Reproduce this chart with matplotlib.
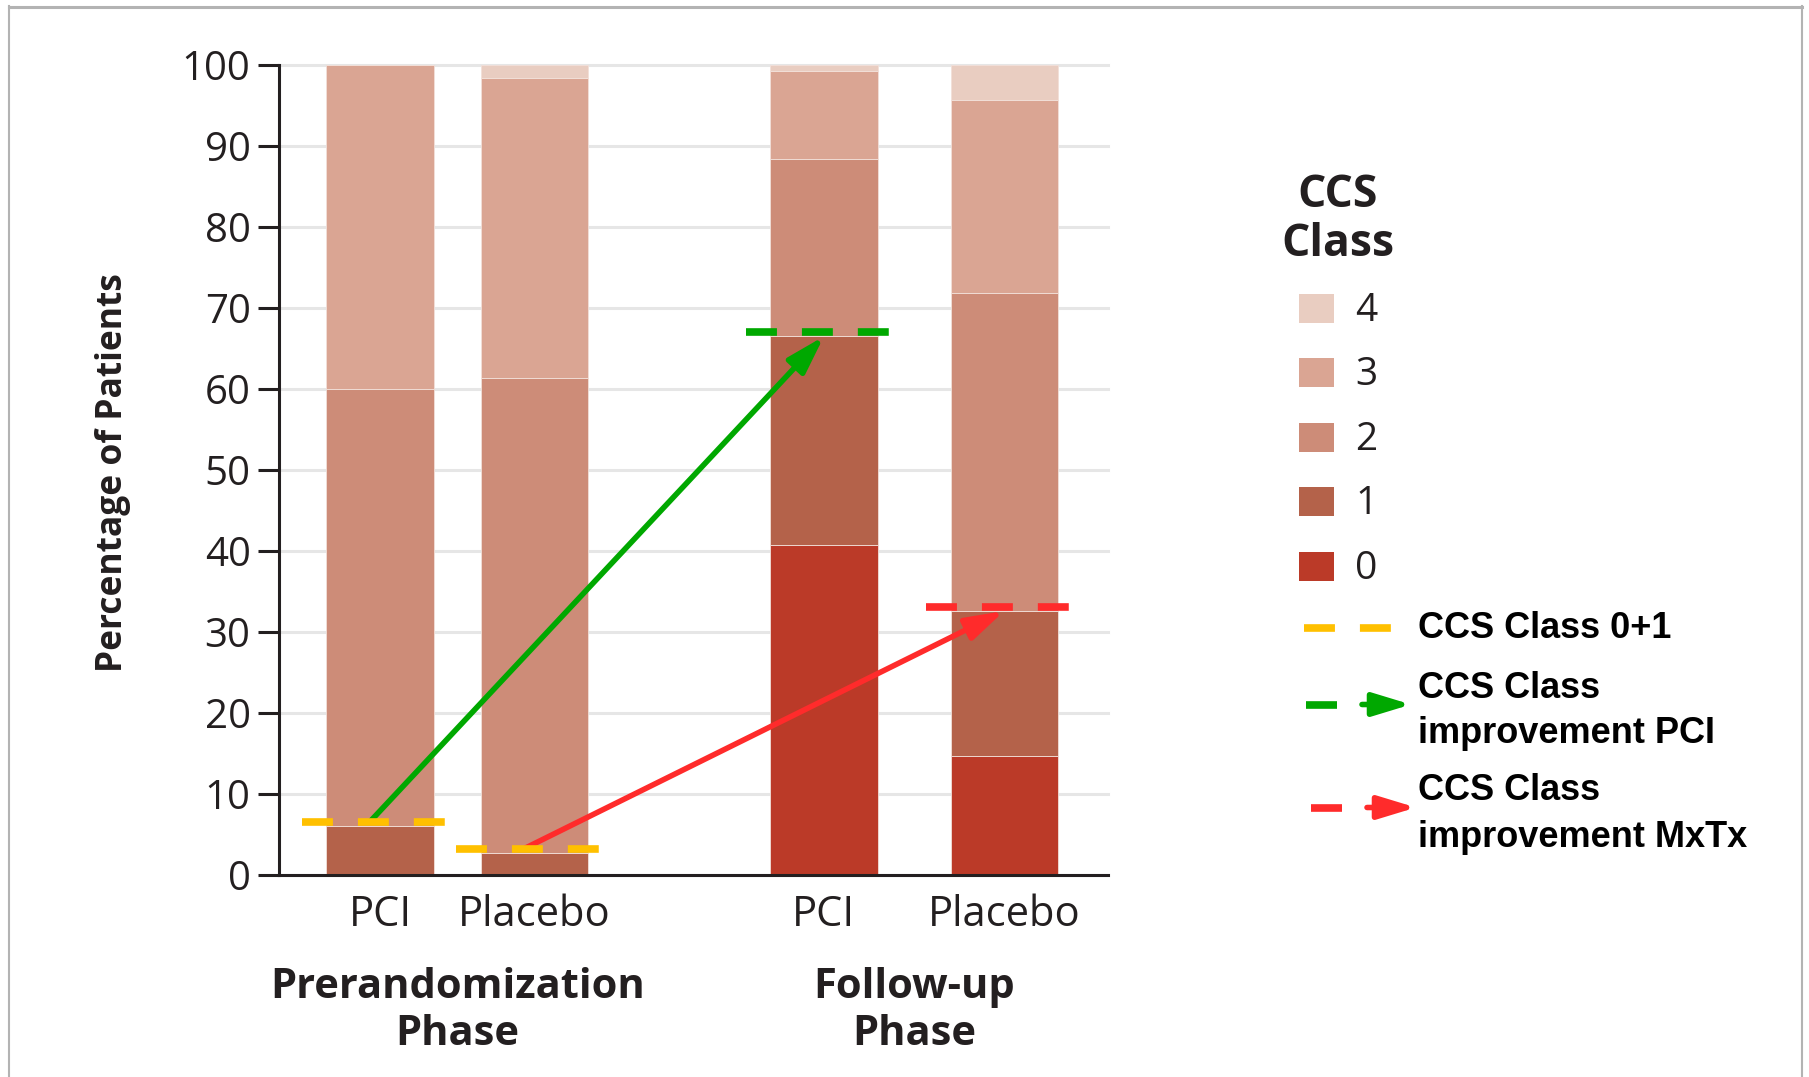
import matplotlib.pyplot as plt
from matplotlib.lines import Line2D
from matplotlib.patches import Rectangle, FancyArrowPatch
from matplotlib.transforms import blended_transform_factory

# Share of patients (%) per CCS angina class, one value per bar
bar_labels = ["PCI", "Placebo", "PCI", "Placebo"]
class_0 = [0.0, 0.0, 40.7, 14.7]
class_1 = [6.1, 2.7, 25.8, 17.9]
class_2 = [53.9, 58.7, 21.9, 39.3]
class_3 = [40.0, 37.0, 10.9, 23.8]
class_4 = [0.0, 1.6, 0.7, 4.3]
class_names = ["0", "1", "2", "3", "4"]
phase_labels = [["Prerandomization", "Phase"], ["Follow-up", "Phase"]]
line_legend = [
    ["CCS Class 0+1"],
    ["CCS Class", "improvement PCI"],
    ["CCS Class", "improvement MxTx"],
]

CLASS_COLORS = ["#bb3a28", "#b4624a", "#cd8c78", "#daa593", "#e9cdc1"]
YELLOW = "#ffc000"
GREEN = "#00a800"
RED = "#ff2b2b"
TEXT = "#231f20"

W, H = 1809, 1077
positions = [0.0, 1.0, 2.88, 4.05]
BAR_WIDTH = 0.696


def fx(x):
    return x / W


def fy(y):
    return 1 - y / H


fig = plt.figure(figsize=(W / 100, H / 100), dpi=100)
ax = fig.add_axes([fx(279), fy(875), (1108 - 279) / W, (875 - 65) / H])

# Stacked bars
stack = [class_0, class_1, class_2, class_3, class_4]
bottom = [0.0] * len(positions)
for vals, color in zip(stack, CLASS_COLORS):
    ax.bar(positions, vals, width=BAR_WIDTH, bottom=bottom, color=color,
           edgecolor="#f2e0d9", linewidth=0.6, zorder=2)
    bottom = [b + v for b, v in zip(bottom, vals)]

# Class 0+1 levels, dashed markers and arrows
class_01 = [a + b for a, b in zip(class_0, class_1)]
dash_colors = [YELLOW, YELLOW, GREEN, RED]
for pos, level, color in zip(positions, class_01, dash_colors):
    ax.plot([pos - 0.505, pos + 0.425], [level + 0.5] * 2, color=color,
            lw=5.5, dashes=(4.05, 3.27), solid_capstyle="butt", zorder=4)

arrow_style = "-|>,head_length=23,head_width=7"
for start, end, color in [(0, 2, GREEN), (1, 3, RED)]:
    ax.annotate("", xy=(positions[end], class_01[end]),
                xytext=(positions[start] - 0.06, class_01[start] + 0.6),
                arrowprops=dict(arrowstyle=arrow_style, mutation_scale=1,
                                lw=4, color=color, shrinkA=0, shrinkB=0),
                zorder=3)

# Axes styling
ax.set_xlim(-0.656, 4.7235)
ax.set_ylim(0, 100)
ax.set_yticks(range(0, 101, 10))
ax.set_xticks(positions, bar_labels)
ax.yaxis.grid(True, color="#e6e6e6", lw=2.2)
for gl in ax.get_ygridlines():
    gl.set_clip_on(False)
ax.set_axisbelow(True)
for side in ["top", "right"]:
    ax.spines[side].set_visible(False)
for side in ["left", "bottom"]:
    ax.spines[side].set_linewidth(2.2)
    ax.spines[side].set_color(TEXT)
ax.tick_params(axis="y", length=15, width=2.2, pad=5.5, labelsize=29,
               color=TEXT, labelcolor=TEXT, labelfontfamily="Open Sans")
ax.tick_params(axis="x", length=0, pad=14, labelsize=30,
               labelcolor=TEXT, labelfontfamily="Open Sans")

# Phase labels below the bar pairs
trans = blended_transform_factory(ax.transData, fig.transFigure)
for i, lines in enumerate(phase_labels):
    center = (positions[2 * i] + positions[2 * i + 1]) / 2
    for line, base in zip(lines, [998, 1045]):
        ax.text(center, fy(base), line, transform=trans, ha="center",
                va="baseline", fontsize=30, fontweight="bold", color=TEXT,
                family="Open Sans")

fig.text(fx(113), fy(473), "Percentage of Patients", rotation=90,
         ha="center", va="center", fontsize=25.5, fontweight="bold", color=TEXT,
         family="Open Sans")

# Class legend
fig.text(fx(1338), fy(207), "CCS", ha="center", va="baseline", fontsize=32,
         fontweight="bold", color=TEXT, family="Open Sans")
fig.text(fx(1338), fy(256), "Class", ha="center", va="baseline", fontsize=32,
         fontweight="bold", color=TEXT, family="Open Sans")
for i, k in enumerate(range(len(class_names) - 1, -1, -1)):
    yc = 308.5 + i * 64.4
    fig.add_artist(Rectangle((fx(1299), fy(yc + 14.5)), 35 / W, 29 / H,
                             transform=fig.transFigure,
                             facecolor=CLASS_COLORS[k], edgecolor="none"))
    fig.text(fx(1355), fy(yc + 12.5), class_names[k], va="baseline",
             fontsize=28, color=TEXT, family="Open Sans")

# Line / arrow legend
legend_rows = [
    (YELLOW, 627.7, 1303.5, False, [638]),
    (GREEN, 704.5, 1306, True, [698, 743]),
    (RED, 807.5, 1311, True, [800, 847]),
]
for (color, y, x0, has_arrow, bases), lines in zip(legend_rows, line_legend):
    if has_arrow:
        fig.add_artist(Line2D([fx(x0), fx(x0 + 31)], [fy(y)] * 2,
                              transform=fig.transFigure, color=color, lw=5.5,
                              solid_capstyle="butt"))
        fig.add_artist(FancyArrowPatch((fx(x0 + 56), fy(y)), (fx(x0 + 105), fy(y)),
                                       transform=fig.transFigure,
                                       arrowstyle=arrow_style, mutation_scale=1,
                                       lw=4, color=color, shrinkA=0, shrinkB=0))
    else:
        fig.add_artist(Line2D([fx(x0), fx(x0 + 87.5)], [fy(y)] * 2,
                              transform=fig.transFigure, color=color, lw=5.5,
                              dashes=(4.05, 3.27), solid_capstyle="butt"))
    for line, base in zip(lines, bases):
        fig.text(fx(1418), fy(base), line, va="baseline", fontsize=26,
                 fontweight="bold", color="black", family="Liberation Sans")

# Grey frame around the picture (no bottom edge)
frame = dict(transform=fig.transFigure, color="#b3b3b3")
fig.add_artist(Line2D([fx(9), fx(1802)], [fy(6.5)] * 2, lw=2.2, **frame))
fig.add_artist(Line2D([fx(9), fx(9)], [fy(6), 0], lw=1.5, **frame))
fig.add_artist(Line2D([fx(1802), fx(1802)], [fy(6), 0], lw=1.5, **frame))

fig.savefig("out.png", dpi=100)
